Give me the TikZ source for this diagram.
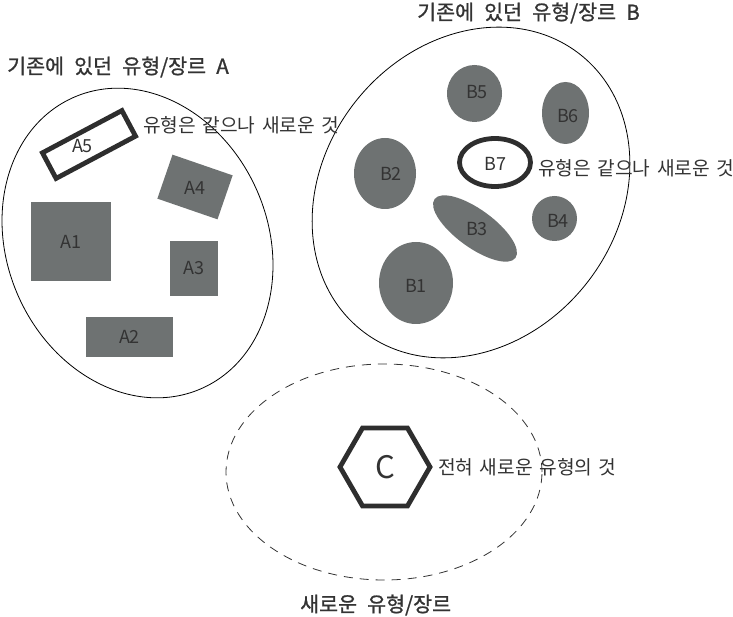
\documentclass[tikz,border=0pt]{standalone}
\usepackage{fontspec}
\setmainfont{Noto Sans CJK KR}
\newfontfamily\titlefont{Noto Sans CJK KR}[FakeBold=1.0, WordSpace=2.2]
\newfontfamily\notefont{Noto Sans CJK KR}[WordSpace=1.5]
\usetikzlibrary{shapes.geometric}
\definecolor{shapegray}{HTML}{6E7272}
\definecolor{inktext}{HTML}{333333}
\definecolor{strokedark}{HTML}{2E2E2E}
\begin{document}
\begin{tikzpicture}[x=1pt,y=-1pt,
  grayrect/.style={rectangle, fill=shapegray, inner sep=0pt, outer sep=0pt},
  grayell/.style={ellipse, fill=shapegray, inner sep=0pt, outer sep=0pt},
  inlbl/.style={font=\fontsize{18}{18}\selectfont, text=inktext, inner sep=0pt},
  note/.style={font=\notefont\fontsize{19.2}{19.2}\selectfont, text=inktext, inner sep=0pt, anchor=west},
  gtitle/.style={font=\titlefont\fontsize{20.6}{20.6}\selectfont, text=inktext, inner sep=0pt, anchor=west},
  container/.style={draw=black, line width=0.8pt},
  newcontainer/.style={draw=black!80, line width=0.8pt, dash pattern=on 9pt off 7pt},
  thickline/.style={draw=strokedark, line width=4.8pt},
]
\useasboundingbox (0,0) rectangle (733,617);

% containers
\draw[container, rotate around={23.6:(137.5,243)}] (137.5,243) ellipse [x radius=130.5pt, y radius=159pt];
\draw[container, rotate around={51.5:(471,192.5)}] (471,192.5) ellipse [x radius=176pt, y radius=147pt];
\draw[newcontainer] (384,472) ellipse [x radius=158pt, y radius=108pt];

% group A
\node[grayrect, minimum width=80pt, minimum height=79pt] (A1) at (71,241.5) {};
\node[inlbl] (A1t) at (A1) {A1};
\node[grayrect, minimum width=87pt, minimum height=40pt] (A2) at (129.5,337) {};
\node[inlbl] (A2t) at (A2) {A2};
\node[grayrect, minimum width=48pt, minimum height=55pt] (A3) at (194,268.5) {};
\node[inlbl] (A3t) at (A3) {A3};
\node[grayrect, rotate=-19, minimum width=63.6pt, minimum height=46.5pt] (A4) at (195,187) {};
\node[inlbl] (A4t) at (195,188) {A4};
\node[rectangle, thickline, rotate=28, minimum width=90pt, minimum height=29pt, inner sep=0pt] (A5) at (89,144.5) {};
\node[inlbl] (A5t) at (82.5,146) {A5};

% group B
\node[grayell, minimum width=55pt, minimum height=57pt] (B5) at (474.5,93.5) {};
\node[inlbl] (B5t) at (477,92.5) {B5};
\node[grayell, minimum width=47pt, minimum height=62pt] (B6) at (565.5,113) {};
\node[inlbl] (B6t) at (568,116) {B6};
\node[grayell, minimum width=62pt, minimum height=71pt] (B2) at (385,173.5) {};
\node[inlbl] (B2t) at (391,174) {B2};
\node[ellipse, thickline, minimum width=71pt, minimum height=48pt, inner sep=0pt] (B7) at (495,162.5) {};
\node[inlbl] (B7t) at (495.5,164) {B7};
\node[grayell, rotate=-36, minimum width=100pt, minimum height=38pt] (B3) at (475,228.5) {};
\node[inlbl] (B3t) at (477,229) {B3};
\node[grayell, minimum width=45pt, minimum height=45pt] (B4) at (554.5,218.5) {};
\node[inlbl] (B4t) at (558,221) {B4};
\node[grayell, minimum width=74pt, minimum height=82pt] (B1) at (416,283) {};
\node[inlbl] (B1t) at (416,286) {B1};

% new C
\node[regular polygon, regular polygon sides=6, thickline, minimum size=90pt, inner sep=0pt,
      font=\fontsize{31}{31}\selectfont, text=inktext] (C) at (385,467) {C};

% notes
\node[note] (nA) at (143,125) {유형은 같으나 새로운 것};
\node[note] (nB) at (538,168) {유형은 같으나 새로운 것};
\node[note] (nC) at (438,467) {전혀 새로운 유형의 것};

% titles
\node[gtitle] (tA) at (7,67) {기존에 있던 유형/장르 A};
\node[gtitle] (tB) at (417,13) {기존에 있던 유형/장르 B};
\node[gtitle] (tC) at (300,605) {새로운 유형/장르};
\end{tikzpicture}
\end{document}
